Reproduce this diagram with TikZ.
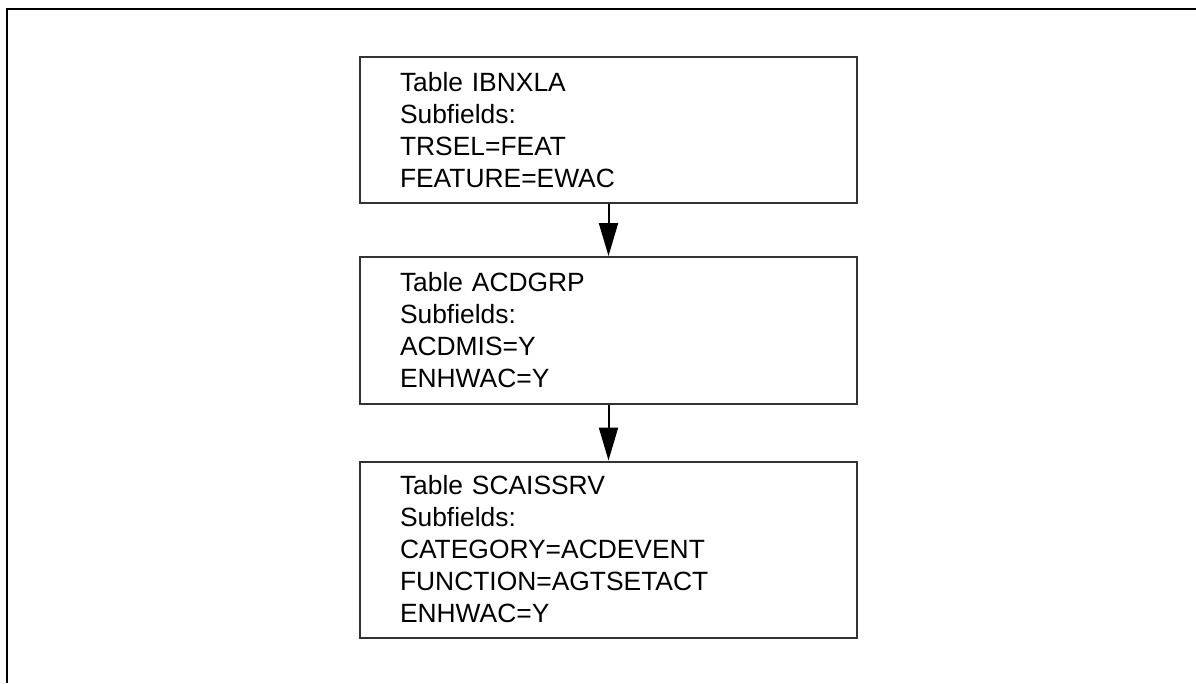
\documentclass[tikz,border=0pt]{standalone}
\usepackage{fontspec}
\setmainfont{Liberation Sans}
\usetikzlibrary{arrows.meta}
\begin{document}
\begin{tikzpicture}[x=1pt,y=-1pt,
  tablebox/.style={draw=black!80, line width=2pt, rectangle, minimum width=497pt,
    text width=417pt, inner xsep=40pt, inner ysep=0pt, align=left,
    font=\fontsize{26.4}{32}\selectfont},
  flow/.style={line width=2pt, -{Triangle[width=19pt,length=33pt]}}]
\useasboundingbox (0,0) rectangle (1196,683);
\draw[line width=2pt] (1196,9) -- (7,9) -- (7,683);
\node[tablebox, minimum height=146pt] (b1) at (608.5,130)
  {Table IBNXLA\\Subfields:\\TRSEL=FEAT\\FEATURE=EWAC};
\node[tablebox, minimum height=147pt] (b2) at (608.5,330.5)
  {Table ACDGRP\\Subfields:\\ACDMIS=Y\\ENHWAC=Y};
\node[tablebox, minimum height=176pt] (b3) at (608.5,549.5)
  {Table SCAISSRV\\Subfields:\\CATEGORY=ACDEVENT\\FUNCTION=AGTSETACT\\ENHWAC=Y};
\draw[flow] (b1.south) -- (b2.north);
\draw[flow] (b2.south) -- (b3.north);
\end{tikzpicture}
\end{document}
